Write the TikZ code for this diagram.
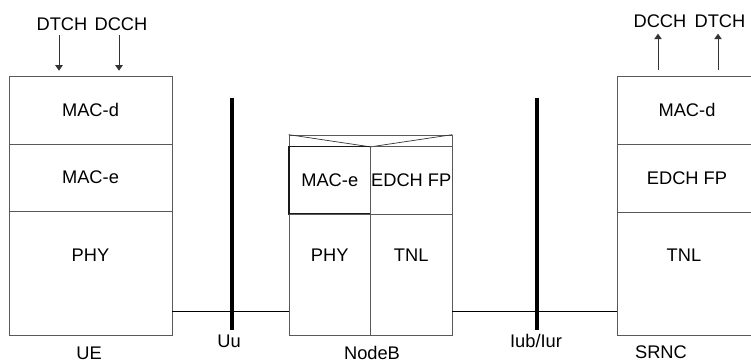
\documentclass[tikz,border=0pt]{standalone}
\usepackage{fontspec}
\setmainfont{Liberation Sans}
\usetikzlibrary{arrows.meta}

\begin{document}
\begin{tikzpicture}[x=0.2mm,y=-0.2mm,font=\fontsize{10.4}{12}\selectfont,
        layer/.style={rectangle,draw=black!65,inner sep=0pt,minimum width=32.6mm},
        cell/.style={rectangle,draw=black!65,inner sep=0pt,minimum width=16.3mm},
        chan/.style={-{Triangle[width=1.5mm,length=1.1mm]},draw=black!80},
        iface/.style={line width=0.8mm},
        link/.style={draw=black}]
      \useasboundingbox (0,0) rectangle (751,362);
      % UE
      \node (uemacd) at (90.5,110) [layer,minimum height=13.6mm] {MAC-d};
      \node (uemace) at (90.5,177.5) [layer,minimum height=13.4mm] {MAC-e};
      \node (uephy) at (90.5,273) [layer,minimum height=24.8mm] {};
      \node (uephytxt) at (90.5,255) {PHY};
      \node (ue) at (89,353) {UE};
      \node (uedtch) at (62,24) {DTCH};
      \node (uedcch) at (121,24) {DCCH};
      \coordinate (a1) at (59,35);
      \coordinate (a2) at (119,35);
      \draw[chan,shorten >=1mm] (a1) -- (a1 |- uemacd.north);
      \draw[chan,shorten >=1mm] (a2) -- (a2 |- uemacd.north);
      % NodeB
      \node (nbtop) at (370.5,140.75) [layer,minimum height=2.3mm] {};
      \draw[draw=black!80] (nbtop.north west) -- (nbtop.south) -- (nbtop.north east);
      \node (nbmace) at (329.75,180.25) [cell,draw=black!90,line width=0.6pt,minimum height=13.5mm] {MAC-e};
      \node (nbfp) at (411.25,180.25) [cell,minimum height=13.5mm] {EDCH FP};
      \node (nbphy) at (329.75,274.5) [cell,minimum height=24.2mm] {};
      \node (nbtnl) at (411.25,274.5) [cell,minimum height=24.2mm] {};
      \node (nbphytxt) at (329.75,255) {PHY};
      \node (nbtnltxt) at (411.25,255) {TNL};
      \node (nodeb) at (372,353) {NodeB};
      % SRNC
      \node (srmacd) at (687,110) [layer,minimum width=28mm,minimum height=13.6mm] {MAC-d};
      \node (srfp) at (687,178) [layer,minimum width=28mm,minimum height=13.6mm] {EDCH FP};
      \node (srtnl) at (687,273.5) [layer,minimum width=28mm,minimum height=24.6mm] {};
      \node (srtnltxt) at (684,255) {TNL};
      \node (srnc) at (661,352) {SRNC};
      \node (srdcch) at (660,21) {DCCH};
      \node (srdtch) at (720,21) {DTCH};
      \coordinate (b1) at (658,70);
      \coordinate (b2) at (718,70);
      \draw[chan] (b1) -- (b1 |- srdcch.south);
      \draw[chan] (b2) -- (b2 |- srdtch.south);
      % interfaces
      \node (uu) at (229,341) {Uu};
      \coordinate (uutop) at (232,98);
      \draw[iface] (uutop) -- (uutop |- 0,330);
      \node (iub) at (536,341) {Iub/Iur};
      \coordinate (iubtop) at (537,98);
      \draw[iface] (iubtop) -- (iubtop |- 0,330);
      \draw[link] (uephy.east |- 0,311) -- (nbphy.west |- 0,311);
      \draw[link] (nbtnl.east |- 0,311) -- (srtnl.west |- 0,311);
\end{tikzpicture}
\end{document}
